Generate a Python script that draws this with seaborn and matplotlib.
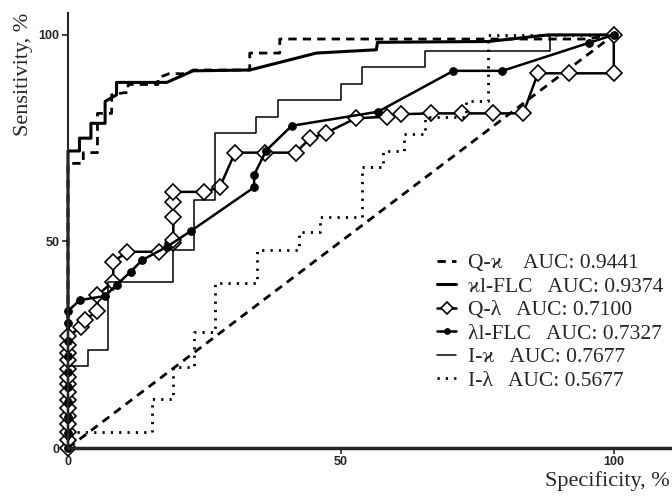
import numpy as np
import pandas as pd
import seaborn as sns
import matplotlib.pyplot as plt

sns.set_style('ticks')
plt.rcParams['font.family'] = ['Liberation Serif', 'DejaVu Serif']

# ROC curves (x = specificity %, y = sensitivity %)
qk_x = [0, 0, 2.8, 2.8, 5.4, 5.4, 8.0, 8.0, 10.2, 11.0, 11.0, 16.5, 16.5, 18.5, 21.5, 23.0, 33.3, 33.3, 38.8, 38.8, 95.0, 100]
qk_y = [0, 68.9, 68.9, 71.5, 71.5, 81.0, 81.0, 85.5, 86.0, 86.0, 88.0, 88.0, 89.6, 90.6, 90.6, 91.5, 91.5, 95.6, 95.6, 99.0, 99.0, 100]

kl_x = [0, 0, 2.1, 2.1, 4.2, 4.2, 6.8, 6.8, 8.9, 8.9, 18.1, 22.9, 33.3, 45.5, 56.5, 56.7, 77.0, 88.0, 100]
kl_y = [0, 71.9, 71.9, 75.0, 75.0, 78.6, 78.6, 83.9, 85.5, 88.5, 88.5, 91.3, 91.5, 95.6, 96.4, 98.2, 98.4, 100, 100]

ql_x = [0, 0, 0, 0, 0, 0, 0, 0, 0, 0, 0, 0, 0, 0, 0, 2.4, 3.1, 5.4, 5.4, 8.3, 8.3, 10.9, 16.6,
        19.3, 19.3, 19.3, 19.3, 19.3, 24.9, 27.8, 30.6, 36.1, 41.7, 44.4, 47.2, 52.7, 58.4, 61.1,
        66.6, 72.1, 77.9, 83.4, 86.1, 91.8, 100, 100]
ql_y = [0, 1.9, 3.8, 5.8, 7.7, 9.6, 11.5, 13.5, 15.4, 17.3, 19.2, 21.2, 23.1, 25.0, 27.0, 29.3, 31.0, 33.2, 37.0, 40.3, 45.1, 47.5, 47.5,
        49.6, 50.4, 56.0, 59.6, 62.0, 62.0, 63.1, 71.5, 71.5, 71.5, 75.0, 76.2, 79.8, 80.2, 80.8,
        81.0, 81.0, 81.0, 81.0, 90.7, 90.7, 90.7, 100]

ll_x = [0, 0, 0, 0, 0, 0, 0, 0, 0, 0, 2.2, 6.8, 8.9, 11.5, 13.6, 18.1, 22.6, 34.1, 34.1, 36.3, 41.0, 56.8, 70.6, 79.6, 95.5, 100]
ll_y = [0, 3.7, 7.4, 11.1, 14.8, 18.5, 22.2, 25.9, 30.2, 33.2, 35.8, 36.8, 39.5, 42.7, 45.5, 48.7, 52.6, 63.1, 66.1, 72.0, 78.0, 81.4, 91.3, 91.3, 98.1, 100]

ik_x = [0, 0, 3.7, 3.7, 7.4, 7.4, 19.2, 19.2, 23.0, 23.0, 26.9, 26.9, 34.5, 34.5, 38.4, 38.4, 50.0, 50.0, 53.8, 53.8, 65.4, 65.4, 88.4, 88.4, 100]
ik_y = [0, 19.9, 19.9, 23.7, 23.7, 40.2, 40.2, 48.0, 48.0, 60.0, 60.0, 76.2, 76.2, 80.2, 80.2, 84.3, 84.3, 88.1, 88.1, 92.3, 92.3, 96.0, 96.0, 100, 100]

il_x = [0, 0, 15.3, 15.3, 19.2, 19.2, 23.1, 23.1, 26.9, 26.9, 34.6, 34.6, 42.3, 42.3, 46.2, 46.2, 53.8, 53.8,
        57.7, 57.7, 61.5, 61.5, 65.4, 65.4, 73.0, 73.0, 77.0, 77.0, 100]
il_y = [0, 3.8, 3.8, 11.9, 11.9, 19.7, 19.7, 28.2, 28.2, 39.9, 39.9, 47.9, 47.9, 52.4, 52.4, 56.0, 56.0, 68.0,
        68.0, 72.0, 72.0, 76.0, 76.0, 80.2, 80.2, 84.1, 84.1, 100, 100]

diag_x = [0, 100]
diag_y = [0, 100]

labels = ['Q-ϰ    AUC: 0.9441', 'ϰl-FLC   AUC: 0.9374', 'Q-λ   AUC: 0.7100',
          'λl-FLC   AUC: 0.7327', 'I-ϰ   AUC: 0.7677', 'I-λ   AUC: 0.5677']

fig = plt.figure(figsize=(6.72, 4.98), dpi=100)
ax = fig.add_axes([68 / 672, 50 / 498, 602 / 672, 435 / 498])

common = dict(sort=False, estimator=None, color='black', ax=ax, clip_on=False)

sns.lineplot(x=diag_x, y=diag_y, lw=2, linestyle=(0, (3, 2.2)), **common)

handles = []
sns.lineplot(x=qk_x, y=qk_y, lw=2, linestyle=(0, (3, 2.2)), **common)
handles.append(ax.lines[-1])
sns.lineplot(x=kl_x, y=kl_y, lw=2.2, **common)
handles.append(ax.lines[-1])
sns.lineplot(x=ql_x, y=ql_y, lw=1.8, marker='D', markersize=8, markerfacecolor='white',
             markeredgecolor='black', markeredgewidth=1.2, **common)
handles.append(ax.lines[-1])
sns.lineplot(x=ll_x, y=ll_y, lw=1.8, marker='o', markersize=5.5, markerfacecolor='black',
             markeredgecolor='black', **common)
handles.append(ax.lines[-1])
sns.lineplot(x=ik_x, y=ik_y, lw=1.1, **common)
handles.append(ax.lines[-1])
sns.lineplot(x=il_x, y=il_y, lw=2, linestyle=(0, (0.8, 2.2)), **common)
handles.append(ax.lines[-1])

ax.set_xlim(0, 110.3)
ax.set_ylim(0, 105.3)
ax.set_xticks([0, 50, 100])
ax.set_yticks([0, 50, 100])
ax.tick_params(direction='out', length=4, width=1.2, pad=2, labelsize=9)
for lab in ax.get_xticklabels() + ax.get_yticklabels():
    lab.set_fontfamily('Liberation Sans')
    lab.set_fontweight('bold')

sns.despine(ax=ax)
ax.spines['left'].set_linewidth(1.5)
ax.spines['bottom'].set_linewidth(2.5)

ax.set_ylabel('Sensitivity, %', fontsize=16, loc='top', labelpad=4)
ax.set_xlabel('Specificity, %', fontsize=16, loc='right', labelpad=2)

ax.legend(handles=handles, labels=labels, frameon=False, fontsize=15.5,
          loc='upper left', bbox_to_anchor=(437 / 672, 1 - 253 / 498),
          bbox_transform=fig.transFigure, borderpad=0, borderaxespad=0,
          handlelength=0.9, handletextpad=0.55, labelspacing=0.16, markerscale=0.75)

fig.savefig('out.png', dpi=100)
